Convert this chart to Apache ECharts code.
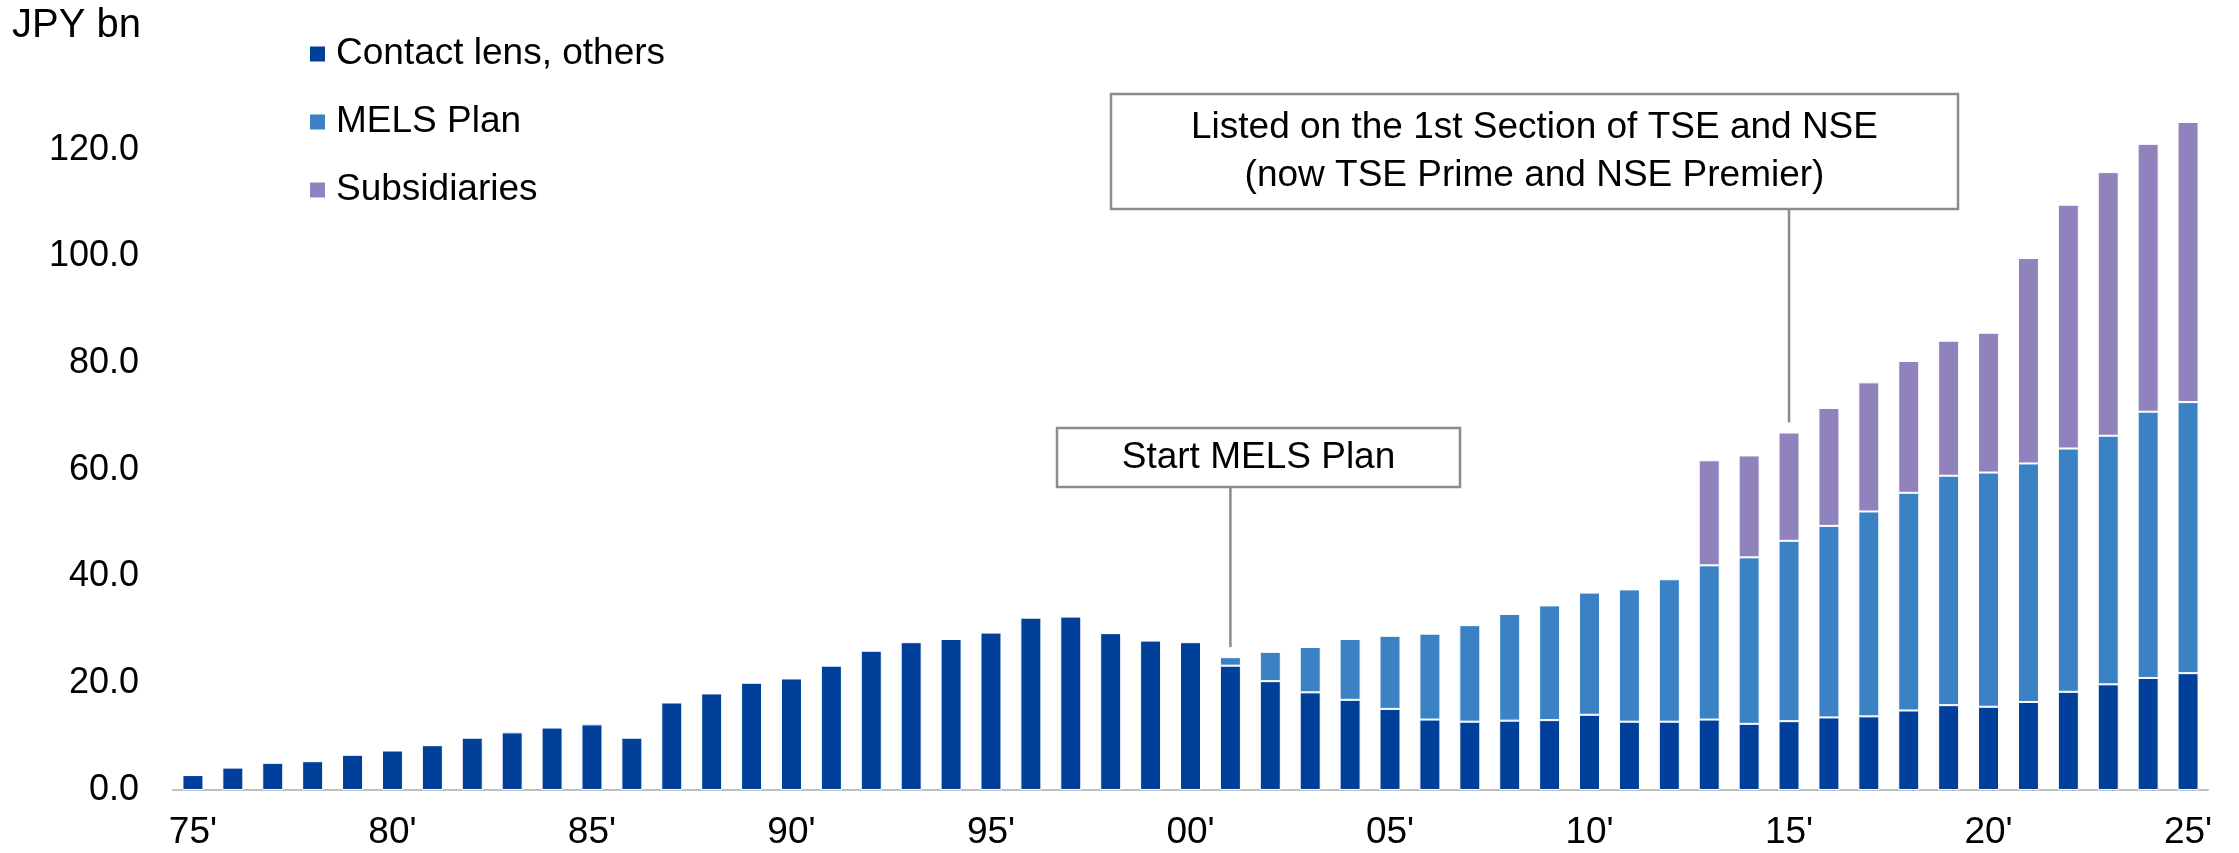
<!DOCTYPE html>
<html>
<head>
<meta charset="utf-8">
<script src="https://cdn.jsdelivr.net/npm/echarts@6/dist/echarts.min.js"></script>
<style>
  html, body { margin: 0; padding: 0; background: #fff; }
  #chart { width: 2239px; height: 853px; }
</style>
</head>
<body>
<div id="chart"></div>
<script>
// fiscal years (two-digit labels)
const years = [
  "75'", "76'", "77'", "78'", "79'", "80'", "81'", "82'", "83'", "84'",
  "85'", "86'", "87'", "88'", "89'", "90'", "91'", "92'", "93'", "94'",
  "95'", "96'", "97'", "98'", "99'", "00'", "01'", "02'", "03'", "04'",
  "05'", "06'", "07'", "08'", "09'", "10'", "11'", "12'", "13'", "14'",
  "15'", "16'", "17'", "18'", "19'", "20'", "21'", "22'", "23'", "24'", "25'"
];

// JPY bn
const contact_lens = [
  2.8, 4.2, 5.1, 5.4, 6.6, 7.4, 8.4, 9.8, 10.8, 11.7,
  12.3, 9.8, 16.4, 18.1, 20.1, 20.9, 23.3, 26.1, 27.7, 28.3,
  29.5, 32.3, 32.5, 29.4, 28.0, 27.7, 23.3, 20.4, 18.3, 16.9,
  15.2, 13.2, 12.8, 13.0, 13.1, 14.1, 12.8, 12.8, 13.2, 12.4,
  12.9, 13.6, 13.8, 14.9, 15.9, 15.6, 16.5, 18.4, 19.8, 21.0, 21.9
];
const mels_plan = [
  null, null, null, null, null, null, null, null, null, null,
  null, null, null, null, null, null, null, null, null, null,
  null, null, null, null, null, null, 1.6, 5.5, 8.5, 11.4,
  13.7, 16.1, 18.1, 20.0, 21.5, 22.9, 24.8, 26.7, 28.9, 31.2,
  33.8, 35.9, 38.4, 40.8, 43.0, 43.9, 44.7, 45.6, 46.6, 49.9, 50.8
];
const subsidiaries = [
  null, null, null, null, null, null, null, null, null, null,
  null, null, null, null, null, null, null, null, null, null,
  null, null, null, null, null, null, null, null, null, null,
  null, null, null, null, null, null, null, null, 19.7, 19.1,
  20.3, 22.1, 24.2, 24.7, 25.3, 26.2, 38.5, 45.7, 49.4, 50.2, 52.5
];

// annotation notes: text, the year they point at, and box placement
const notes = [
  { text: "Start MELS Plan", year: "01'", box: [1057, 428, 403, 59] },
  { text: "Listed on the 1st Section of TSE and NSE\n(now TSE Prime and NSE Premier)", year: "15'", box: [1111, 94, 847, 115] },
];

const font_family = "'Liberation Sans', Arial, sans-serif";
const series_colors = ["#00409a", "#3b82c4", "#9083bd"];

const container = document.getElementById("chart");
const chart = echarts.init(container);

const bar_series = (name, data, color) => ({
  name: name,
  type: "bar",
  stack: "total",
  barWidth: 21,
  data: data,
  itemStyle: { color: color, borderColor: "#fff", borderWidth: 1 },
  emphasis: { disabled: true },
});

chart.setOption({
  backgroundColor: "#fff",
  animation: false,
  textStyle: { fontFamily: font_family },
  legend: {
    orient: "vertical",
    left: 308,
    top: 34,
    padding: 0,
    itemWidth: 17,
    itemHeight: 17,
    itemGap: 28,
    icon: "rect",
    selectedMode: false,
    textStyle: { color: "#000", fontSize: 37, lineHeight: 40, padding: [0, 0, 0, 5], fontFamily: font_family },
    data: ["Contact lens, others", "MELS Plan", "Subsidiaries"],
  },
  grid: { left: 173, right: 31, top: 43, bottom: 63, containLabel: false },
  xAxis: {
    type: "category",
    data: years,
    axisLine: { lineStyle: { color: "#bfbfbf", width: 2 } },
    axisTick: { show: false },
    axisLabel: { interval: 4, margin: 24, color: "#000", fontSize: 37, fontFamily: font_family },
  },
  yAxis: {
    type: "value",
    min: 0,
    max: 140,
    interval: 20,
    axisLine: { show: false },
    axisTick: { show: false },
    splitLine: { show: false },
    axisLabel: {
      showMaxLabel: false,
      margin: 34,
      color: "#000",
      fontSize: 36,
      fontFamily: font_family,
      formatter: (v) => v.toFixed(1),
    },
  },
  series: [
    bar_series("Contact lens, others", contact_lens, series_colors[0]),
    bar_series("MELS Plan", mels_plan, series_colors[1]),
    bar_series("Subsidiaries", subsidiaries, series_colors[2]),
  ],
});

// unit label and annotation boxes, leader lines anchored to the bar tops
const graphics = [
  {
    type: "text",
    x: 12,
    y: 26,
    style: { text: "JPY bn", fill: "#000", font: "40px " + font_family, verticalAlign: "middle" },
  },
];
notes.forEach((note) => {
  const idx = years.indexOf(note.year);
  const total = [contact_lens, mels_plan, subsidiaries].reduce((s, arr) => s + (arr[idx] || 0), 0);
  const [px, py] = chart.convertToPixel({ gridIndex: 0 }, [idx, total]);
  const [bx, by, bw, bh] = note.box;
  graphics.push({
    type: "line",
    shape: { x1: px, y1: by + bh, x2: px, y2: py - 10 },
    style: { stroke: "#8c8c8c", lineWidth: 2.5 },
  });
  graphics.push({
    type: "rect",
    shape: { x: bx, y: by, width: bw, height: bh },
    style: { fill: "#fff", stroke: "#8c8c8c", lineWidth: 2.5 },
  });
  graphics.push({
    type: "text",
    x: bx + bw / 2,
    y: by + bh / 2,
    style: {
      text: note.text,
      fill: "#000",
      font: "37px " + font_family,
      align: "center",
      verticalAlign: "middle",
      lineHeight: 48,
    },
  });
});
chart.setOption({ graphic: graphics });

window.addEventListener("resize", chart.resize);
</script>
</body>
</html>
